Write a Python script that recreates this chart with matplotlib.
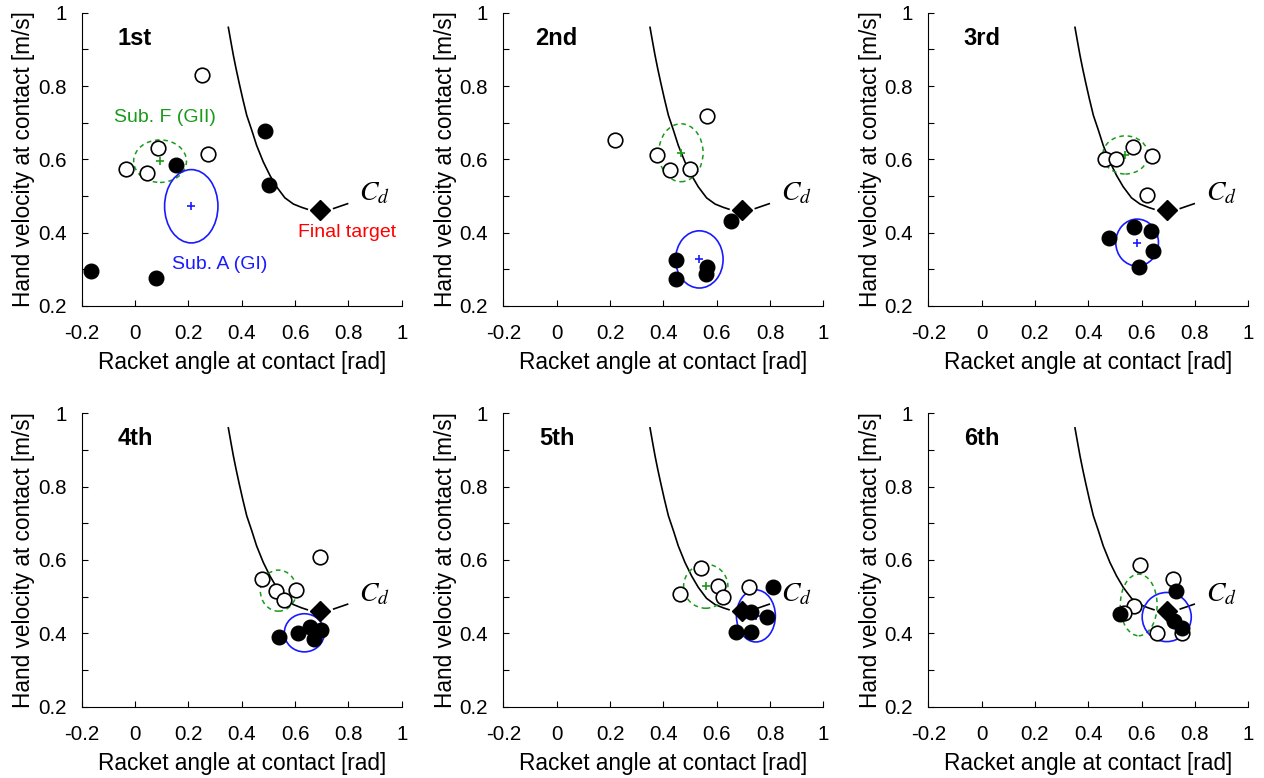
import matplotlib
matplotlib.use('Agg')
import matplotlib.pyplot as plt
from matplotlib.patches import Ellipse
from matplotlib.ticker import MultipleLocator

plt.rcParams['font.family'] = ['Liberation Sans', 'DejaVu Sans']
plt.rcParams['mathtext.fontset'] = 'stix'

# target curve C_d
cd_x = [0.350, 0.360, 0.369, 0.379, 0.390, 0.404, 0.419, 0.438, 0.456,
        0.481, 0.506, 0.531, 0.562, 0.594, 0.625, 0.646]
cd_y = [0.960, 0.919, 0.883, 0.847, 0.810, 0.765, 0.720, 0.679, 0.638,
        0.593, 0.556, 0.525, 0.495, 0.478, 0.469, 0.464]
cd_ext_x = [0.745, 0.797]
cd_ext_y = [0.466, 0.479]
target = (0.695, 0.461)

titles = ['1st', '2nd', '3rd', '4th', '5th', '6th']

# Sub. F (GII) - open circles
open_x = [
    [0.250, 0.087, -0.035, 0.045, 0.275],
    [0.219, 0.377, 0.426, 0.500, 0.562],
    [0.463, 0.504, 0.567, 0.638, 0.620],
    [0.476, 0.530, 0.560, 0.605, 0.695],
    [0.542, 0.604, 0.623, 0.464, 0.723],
    [0.592, 0.718, 0.573, 0.533, 0.659, 0.753],
]
open_y = [
    [0.829, 0.631, 0.575, 0.563, 0.614],
    [0.654, 0.611, 0.572, 0.575, 0.717],
    [0.602, 0.602, 0.634, 0.608, 0.502],
    [0.547, 0.514, 0.490, 0.517, 0.608],
    [0.577, 0.529, 0.500, 0.506, 0.525],
    [0.585, 0.547, 0.474, 0.454, 0.400, 0.400],
]

# Sub. A (GI) - filled circles
fill_x = [
    [0.154, 0.489, 0.504, -0.166, 0.078],
    [0.652, 0.447, 0.447, 0.560, 0.565],
    [0.477, 0.572, 0.635, 0.641, 0.589],
    [0.539, 0.612, 0.658, 0.698, 0.672],
    [0.812, 0.727, 0.789, 0.674, 0.730],
    [0.728, 0.518, 0.721, 0.750],
]
fill_y = [
    [0.584, 0.676, 0.531, 0.295, 0.277],
    [0.432, 0.325, 0.273, 0.287, 0.307],
    [0.386, 0.416, 0.405, 0.350, 0.307],
    [0.389, 0.401, 0.417, 0.410, 0.384],
    [0.527, 0.459, 0.443, 0.402, 0.402],
    [0.514, 0.452, 0.433, 0.415],
]

# variability ellipses: centre x, centre y, width, height
green_ell = [
    (0.094, 0.595, 0.198, 0.116),
    (0.466, 0.618, 0.166, 0.158),
    (0.539, 0.612, 0.170, 0.104),
    (0.538, 0.516, 0.136, 0.112),
    (0.559, 0.528, 0.166, 0.120),
    (0.589, 0.477, 0.138, 0.168),
]
blue_ell = [
    (0.211, 0.472, 0.200, 0.200),
    (0.535, 0.327, 0.178, 0.156),
    (0.583, 0.373, 0.160, 0.128),
    (0.635, 0.401, 0.150, 0.104),
    (0.747, 0.447, 0.146, 0.142),
    (0.694, 0.444, 0.184, 0.134),
]

green = '#1a9a1a'
blue = '#1a1aff'

fig = plt.figure(figsize=(12.64, 7.78), dpi=100)

lefts = [0.0646, 0.3982, 0.7344]
bottoms = [0.6067, 0.0919]
w, h = 0.2532, 0.377

for i in range(6):
    ax = fig.add_axes([lefts[i % 3], bottoms[i // 3], w, h])

    ax.plot(cd_x, cd_y, color='black', lw=1.2, zorder=2)
    ax.plot(cd_ext_x, cd_ext_y, color='black', lw=1.2, zorder=2)

    gx, gy, gw, gh = green_ell[i]
    ax.add_patch(Ellipse((gx, gy), gw, gh, fill=False, ec=green, lw=1.1,
                         ls=(0, (3, 2.5)), zorder=3))
    ax.plot(gx, gy, marker='+', color=green, ms=6, mew=1.2, zorder=3)
    bx, by, bw, bh = blue_ell[i]
    ax.add_patch(Ellipse((bx, by), bw, bh, fill=False, ec=blue, lw=1.2, zorder=3))
    ax.plot(bx, by, marker='+', color=blue, ms=6, mew=1.2, zorder=3)

    ax.plot(target[0], target[1], marker='D', color='black', ms=10,
            ls='none', zorder=4)

    ax.plot(open_x[i], open_y[i], 'o', mfc='white', mec='black', mew=1.2,
            ms=10.5, ls='none', zorder=5)
    ax.plot(fill_x[i], fill_y[i], 'o', color='black', ms=10.5, ls='none', zorder=6)

    ax.text(0.84, 0.488, '$C_d$', fontsize=20, ha='left', va='baseline')
    ax.text(0.0, 0.93, titles[i], fontsize=17, fontweight='bold',
            ha='center', va='center')

    if i == 0:
        ax.text(0.112, 0.715, 'Sub. F (GII)', color=green, fontsize=14,
                ha='center', va='center')
        ax.text(0.317, 0.314, 'Sub. A (GI)', color=blue, fontsize=14,
                ha='center', va='center')
        ax.text(0.797, 0.401, 'Final target', color='red', fontsize=14,
                ha='center', va='center')

    ax.set_xlim(-0.2, 1.0)
    ax.set_ylim(0.2, 1.0)
    ax.set_xticks([-0.2, 0, 0.2, 0.4, 0.6, 0.8, 1.0])
    ax.set_xticklabels(['-0.2', '0', '0.2', '0.4', '0.6', '0.8', '1'])
    ax.set_yticks([0.2, 0.4, 0.6, 0.8, 1.0])
    ax.set_yticklabels(['0.2', '0.4', '0.6', '0.8', '1'])
    ax.yaxis.set_minor_locator(MultipleLocator(0.1))
    ax.tick_params(which='both', direction='in', length=4, width=0.8,
                   labelsize=14.8)
    ax.tick_params(axis='x', pad=13)
    ax.tick_params(axis='y', pad=11)
    ax.spines['top'].set_visible(False)
    ax.spines['right'].set_visible(False)
    ax.set_xlabel('Racket angle at contact [rad]', fontsize=16.3, labelpad=6)
    ax.set_ylabel('Hand velocity at contact [m/s]', fontsize=16.3, labelpad=2)

fig.savefig('out.png', dpi=100)
